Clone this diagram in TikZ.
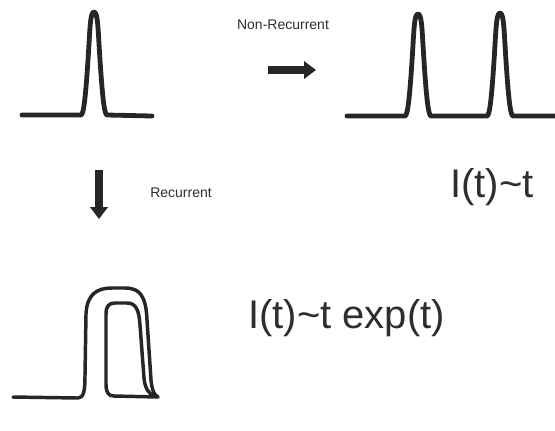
\documentclass[tikz,border=0pt]{standalone}
\usepackage{fontspec}
\setmainfont{Liberation Sans}
\usepackage{xcolor}
\usetikzlibrary{positioning, arrows.meta}

\definecolor{ink}{HTML}{262626}
\definecolor{txt}{HTML}{2E2E2E}

% one narrow peak: centre x, base y, top y
\newcommand\peakpath[3]{-- ({#1-13},#2) .. controls ({#1-10},#2) and ({#1-8},{#2-25}) .. ({#1-6},{#2-55})
    .. controls ({#1-4},{#2-85}) and ({#1-4},#3) .. (#1,#3)
    .. controls ({#1+4},#3) and ({#1+4},{#2-85}) .. ({#1+6},{#2-55})
    .. controls ({#1+8},{#2-25}) and ({#1+10},#2) .. ({#1+13},#2)}

\begin{document}
\begin{tikzpicture}[
    x=0.75pt, y=-0.75pt,
    pulse/.style={draw=ink, line width=3.6pt, line join=round, line cap=round},
    loop/.style={draw=ink, line width=2.6pt, line join=round, line cap=round},
    bigarrow/.style={draw=ink, line width=6pt, -{Triangle[length=9pt, width=13pt]}},
    small/.style={text=txt, font=\fontsize{10.5}{12}\selectfont},
    law/.style={text=txt, font=\fontsize{30}{34}\selectfont, inner sep=0pt}
]
\useasboundingbox (0,0) rectangle (555,430);

% Single pulse
\draw[pulse] (22,115) \peakpath{94}{115}{12} -- (152,116);

% Two pulses
\draw[pulse] (347,116) \peakpath{418}{116}{14} \peakpath{500}{116}{13} -- (555,116);

% Recurrent pulse
\draw[loop] (13,397) -- (78,398) .. controls (84,398) and (85,390) .. (85,375)
    -- (86,314) .. controls (87,294) and (97,288) .. (112,288) -- (125,288)
    .. controls (140,288) and (146,296) .. (147,320) -- (151,380)
    .. controls (152,390) and (154,395) .. (158,397);
\draw[loop] (158,397) -- (114,396) .. controls (108,396) and (106,392) .. (106,384)
    -- (106,314) .. controls (106,306) and (109,303) .. (115,303) -- (127,303)
    .. controls (136,303) and (139,310) .. (140,325) -- (144,378)
    .. controls (145,388) and (148,393) .. (154,396);

% Arrows
\coordinate (nr0) at (268,70);
\coordinate (nr1) at (316,70);
\coordinate (re0) at (99,170);
\coordinate (re1) at (99,219);
\draw[bigarrow] (nr0) -- (nr1);
\draw[bigarrow] (re0) -- (re1);

% Labels
\node[small] (nrlab) at (283,25) {Non-Recurrent};
\node[small] (relab) at (181,193) {Recurrent};
\node[law, anchor=west] (lin) at (450,187) {I(t)\char`\~t};
\node[law, anchor=west] (expo) at (248,318) {I(t)\char`\~t exp(t)};

\end{tikzpicture}
\end{document}
